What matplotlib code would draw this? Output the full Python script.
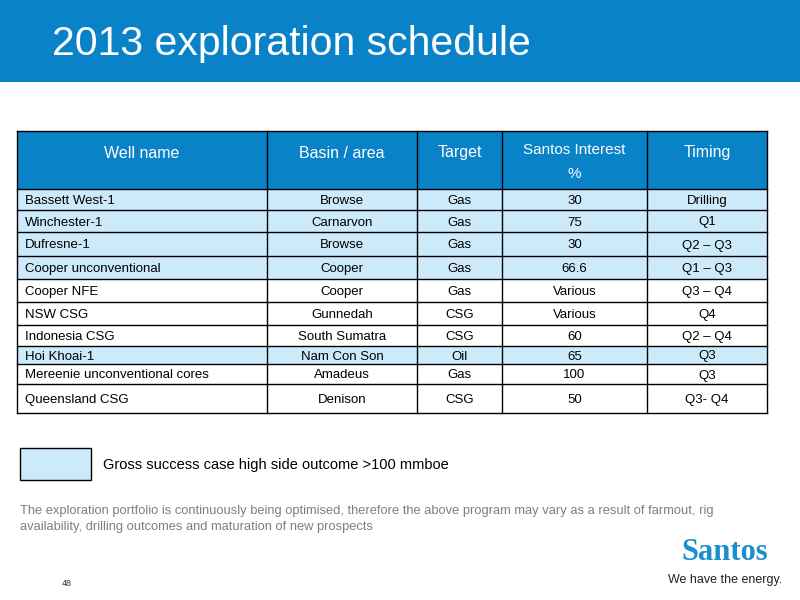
import matplotlib
matplotlib.use("Agg")
import matplotlib.pyplot as plt
from matplotlib.patches import Rectangle

title = "2013 exploration schedule"
headers = ["Well name", "Basin / area", "Target", "Santos Interest\n%", "Timing"]
wells = ["Bassett West-1", "Winchester-1", "Dufresne-1", "Cooper unconventional", "Cooper NFE",
         "NSW CSG", "Indonesia CSG", "Hoi Khoai-1", "Mereenie unconventional cores", "Queensland CSG"]
basins = ["Browse", "Carnarvon", "Browse", "Cooper", "Cooper", "Gunnedah", "South Sumatra",
          "Nam Con Son", "Amadeus", "Denison"]
targets = ["Gas", "Gas", "Gas", "Gas", "Gas", "CSG", "CSG", "Oil", "Gas", "CSG"]
interest = ["30", "75", "30", "66.6", "Various", "Various", "60", "65", "100", "50"]
timing = ["Drilling", "Q1", "Q2 \u2013 Q3", "Q1 \u2013 Q3", "Q3 \u2013 Q4", "Q4", "Q2 \u2013 Q4", "Q3", "Q3", "Q3- Q4"]
highlight = [True, True, True, True, False, False, False, True, False, False]

BLUE = "#0a82c8"
LIGHT = "#cdeafb"
FONT = "Liberation Sans"

fig = plt.figure(figsize=(8, 6), dpi=100)
ax = fig.add_axes([0, 0, 1, 1])
ax.set_xlim(0, 800); ax.set_ylim(600, 0); ax.axis("off")

ax.add_patch(Rectangle((0, 0), 800, 82, color=BLUE, lw=0))
ax.text(52, 44, title, color="white", fontsize=29.5, va="center", ha="left", family=FONT)

xs = [17, 267, 417, 502, 647, 767]
ys = [131, 189, 210, 232, 256, 279, 302, 325, 346, 364, 384, 413]

ax.add_patch(Rectangle((xs[0], ys[0]), xs[-1]-xs[0], ys[1]-ys[0], color=BLUE, lw=0))
for j, h in enumerate(headers):
    if j == 3:
        ax.text((xs[j]+xs[j+1])/2, ys[0]+12, h, color="white", fontsize=11, ha="center", va="top",
                family=FONT, linespacing=1.9)
    else:
        ax.text((xs[j]+xs[j+1])/2, ys[0]+22, h, color="white", fontsize=11.5,
                ha="center", va="center", family=FONT)

cols = [wells, basins, targets, interest, timing]
for i in range(len(wells)):
    y0, y1 = ys[i+1], ys[i+2]
    if highlight[i]:
        ax.add_patch(Rectangle((xs[0], y0), xs[-1]-xs[0], y1-y0, color=LIGHT, lw=0))
    for j, col in enumerate(cols):
        if j == 0:
            ax.text(xs[0]+8, (y0+y1)/2, col[i], fontsize=9.5, ha="left", va="center_baseline", family=FONT)
        else:
            ax.text((xs[j]+xs[j+1])/2, (y0+y1)/2, col[i], fontsize=9.5, ha="center", va="center_baseline", family=FONT)

for y in ys[1:]:
    ax.plot([xs[0], xs[-1]], [y, y], color="black", lw=1)
for x in xs:
    ax.plot([x, x], [ys[0], ys[-1]], color="black", lw=1)
ax.plot([xs[0], xs[-1]], [ys[0], ys[0]], color="black", lw=1)

ax.add_patch(Rectangle((20, 448), 71, 32, facecolor=LIGHT, edgecolor="black", lw=1))
ax.text(103, 465, "Gross success case high side outcome >100 mmboe", fontsize=10.5, va="center", family=FONT)

ax.text(20, 505, "The exploration portfolio is continuously being optimised, therefore the above program may vary as a result of farmout, rig\n"
        "availability, drilling outcomes and maturation of new prospects", fontsize=9.3, color="#7f7f7f",
        va="top", family=FONT, linespacing=1.45)
ax.text(62, 583, "48", fontsize=6.5, color="#333333", va="center", family=FONT)

ax.text(725, 567, "Santos", fontsize=22, color="#1a8fce", ha="center", va="bottom", family="Liberation Serif", weight="bold")
ax.text(725, 580, "We have the energy.", fontsize=9, color="#222222", ha="center", va="center", family=FONT)

fig.savefig("out.png", dpi=100)
